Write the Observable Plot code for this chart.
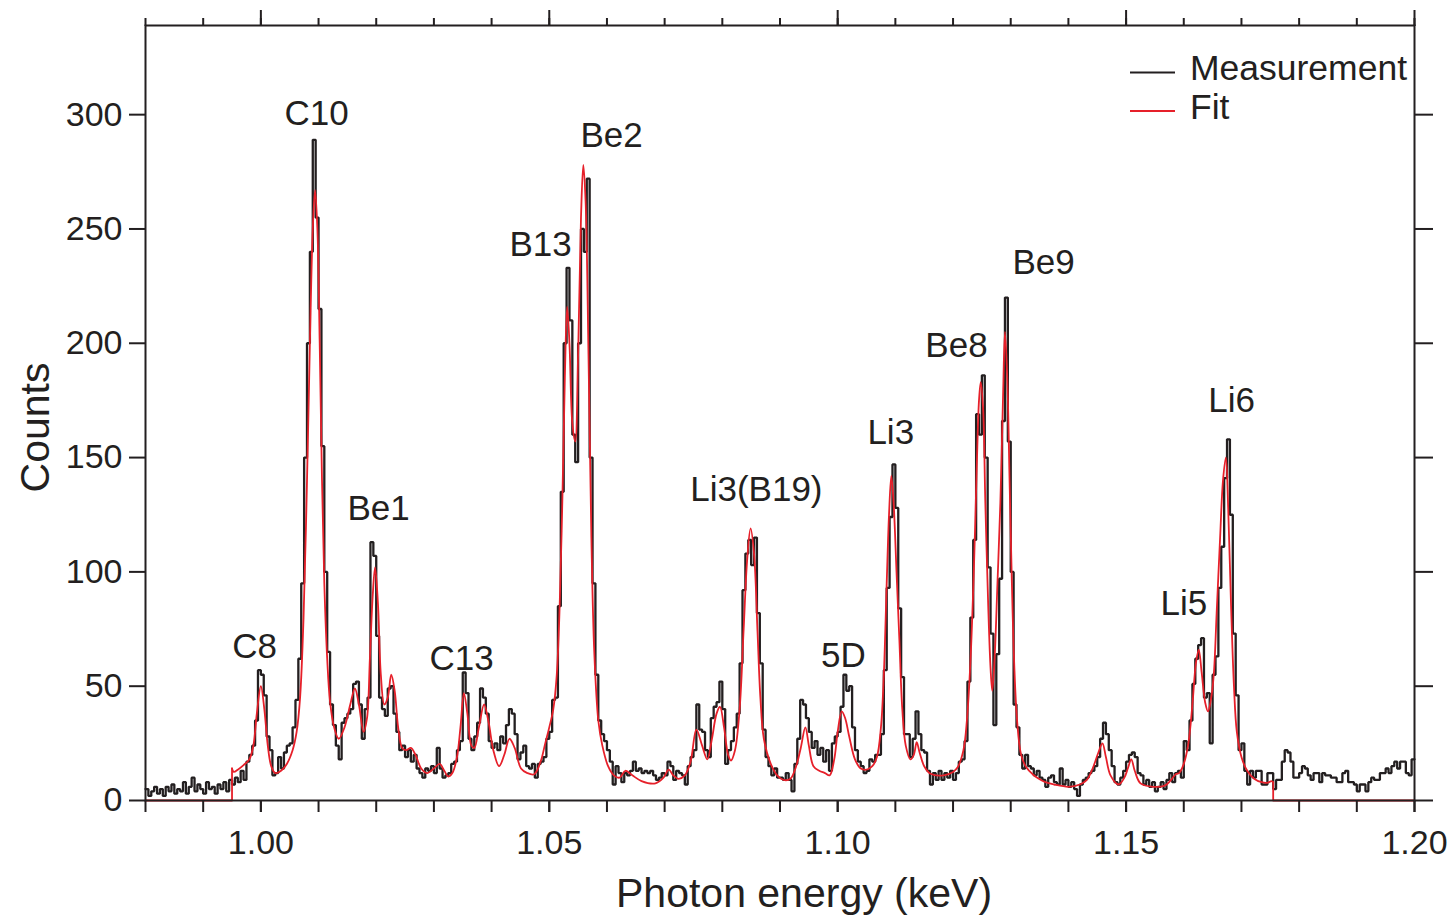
<!DOCTYPE html>
<html><head><meta charset="utf-8">
<script src="https://cdn.jsdelivr.net/npm/d3@7"></script>
<script src="https://cdn.jsdelivr.net/npm/@observablehq/plot@0.6"></script>
<style>
html,body{margin:0;padding:0;background:#fff;}
#chart{width:1449px;height:916px;}
</style></head><body><div id="chart"></div>
<script>
// Histogram bins (keV)
const binStart = 0.98;
const binWidth = 0.0005;
// Measured counts per bin
const measuredCounts = [
5,2,4,6,3,5,2,6,4,7, 3,5,4,8,3,6,10,4,7,5, 3,8,5,6,3,7,5,8,4,9,
7,10,8,13,9,17,20,24,35,57, 55,46,28,22,11,12,19,14,21,24,
25,32,44,62,95,150,200,240,289,255, 215,155,100,65,42,33,24,18,34,36,
38,40,51,52,42,27,40,45,113,107, 72,45,40,37,49,50,38,30,22,24,
19,22,17,20,14,12,10,14,13,15, 12,23,14,10,11,12,16,17,22,26,
56,47,27,22,28,34,49,45,38,26, 23,25,22,28,25,33,40,38,29,18,
21,24,15,14,16,10,16,17,19,27, 30,44,45,85,135,200,233,210,160,148,
200,250,240,272,150,95,55,35,29,26, 22,17,7,15,12,8,12,11,13,17,
13,14,12,13,12,13,11,9,10,12, 11,17,15,9,13,12,11,7,15,19,
22,42,31,30,22,19,36,41,43,52, 40,16,22,26,32,38,60,92,108,114,
103,115,82,60,31,19,15,11,14,10, 10,9,12,9,4,16,27,44,42,36,
30,23,26,20,23,17,22,13,25,28, 30,41,55,48,50,32,22,17,15,12,
13,18,17,20,20,29,57,93,124,147, 128,84,54,29,29,19,27,39,29,22,
21,13,7,12,9,13,9,12,10,13, 9,12,17,18,26,52,80,114,169,160,
186,150,102,73,33,64,97,166,220,157, 100,42,32,20,14,20,15,14,11,13,
10,9,6,10,11,8,7,14,7,9, 6,8,5,2,7,9,10,12,13,15,
19,27,34,29,22,15,8,7,10,13, 17,20,21,19,12,11,7,9,6,8,
4,6,8,5,9,12,8,12,13,10, 26,22,35,51,62,68,71,45,47,25,
55,63,93,111,141,158,125,73,46,22, 25,13,7,13,10,13,13,7,7,12,
12,5,9,9,17,22,21,17,10,10, 12,15,14,11,9,12,12,8,12,11,
11,10,10,8,8,12,13,8,8,7, 4,7,7,4,8,10,9,9,12,12,
14,12,15,17,14,17,17,12,11,18
];
// Fit curve (keV, counts)
const fitEnergy = [
0.98,0.995,0.995,0.9953,0.996,0.997,0.998,0.9987,0.9993,1.0,1.0006,1.0012,1.0018,1.0025,1.0035,1.0045,1.0055,1.0062,1.0068,1.0074,
1.008,1.0085,1.009,1.0094,1.0098,1.0102,1.0106,1.011,1.0115,1.012,1.0127,1.0135,1.0145,1.0155,1.0163,1.017,1.0178,1.0184,1.0189,1.0194,
1.0198,1.0203,1.0208,1.0214,1.022,1.0226,1.0232,1.0238,1.0245,1.0252,1.026,1.0268,1.0278,1.0288,1.03,1.031,1.0318,1.0325,1.0332,1.034,
1.0346,1.0352,1.0358,1.0365,1.037,1.0378,1.0387,1.0395,1.0403,1.0413,1.0422,1.0431,1.044,1.0451,1.0462,1.0474,1.0485,1.0493,1.05,1.0507,
1.0513,1.0518,1.0523,1.0527,1.0531,1.0535,1.054,1.0545,1.055,1.0555,1.0559,1.0563,1.0568,1.0573,1.0578,1.0585,1.0592,1.0602,1.0612,1.0622,
1.0632,1.0644,1.066,1.0684,1.0698,1.0707,1.0715,1.0724,1.0735,1.0745,1.0755,1.0765,1.0774,1.0782,1.079,1.0796,1.0803,1.081,1.0815,1.0822,
1.083,1.0837,1.0843,1.0849,1.0855,1.0861,1.0866,1.0872,1.0884,1.0895,1.0906,1.0918,1.0928,1.0936,1.0944,1.095,1.0958,1.0968,1.0978,1.0986,
1.0994,1.1,1.1007,1.1013,1.102,1.103,1.104,1.105,1.106,1.1068,1.1075,1.108,1.1085,1.1089,1.1093,1.1097,1.1102,1.1107,1.1112,1.1118,
1.1126,1.1132,1.1137,1.1142,1.115,1.1161,1.1184,1.12,1.1208,1.1218,1.1224,1.123,1.1236,1.1241,1.1245,1.1248,1.1252,1.1256,1.1261,1.1265,
1.1268,1.1272,1.1277,1.1282,1.1287,1.129,1.1294,1.1298,1.1302,1.1306,1.1311,1.1318,1.1327,1.1338,1.1348,1.136,1.1375,1.14,1.142,1.1432,
1.1442,1.1452,1.1459,1.1465,1.1473,1.1487,1.1497,1.1503,1.1509,1.1515,1.1525,1.1547,1.1567,1.1578,1.1586,1.1592,1.16,1.1608,1.1615,1.1621,
1.1626,1.1631,1.1637,1.1642,1.1647,1.1652,1.1657,1.1663,1.1668,1.1673,1.1677,1.1682,1.1687,1.1692,1.17,1.171,1.1722,1.1735,1.1746,1.1752,
1.1755,1.1755,1.2
];
const fitCounts = [
0,0,14,12.5,13.5,15.5,18,24,38,50,40,24,15,12,13,16,22,30,45,80,
140,200,250,267,250,200,140,95,62,43,32,27,32,42,49,42,30,36,62,90,
102,86,55,42,45,55,48,32,23,22,23,20,14,12,14,16,13,10.5,12,19,
32,47,38,24,23,32,42,34,22,15,20,27,23,14,12,11.5,17,25,32,40,
55,85,135,185,216,200,165,157,195,255,278,262,195,115,65,35,24,15,11,10,
13,11,8.5,7.5,10,13.5,11,9.5,11,17,31,24,18,27,38,41,32,20,17.5,22,
40,75,105,119,108,74,45,27,16,11,9,9.5,15,23,32,24,15,13,12,11,
18,30,39,36,28,18,14,13.5,15,19,32,55,95,125,142,130,100,70,40,24,
18,20,25.5,21,15,11.7,11,12.5,14.5,22,35,60,100,145,175,183,172,130,85,58,
48,62,95,130,180,205,185,140,95,60,35,20,14.5,11.5,9.6,8,7,6,7,9,
14,21,25,19,11,7,10,14,18,13,7.5,6,6.5,9,11.5,12,16,25,42,60,
66,56,43,39,44,55,82,115,140,150,128,85,50,30,19,13,9.5,8,7.8,8.5,
8,0,0
];
// Peak labels
const peakNames  = ["C8","C10","Be1","C13","B13","Be2","Li3(B19)","5D","Li3","Be8","Be9","Li5","Li6"];
const peakEnergy = [0.9989,1.00965,1.0204,1.0348,1.0485,1.0608,1.0859,1.1010,1.1092,1.1206,1.1357,1.1600,1.1683];
const peakCounts = [62.5,295.6,122.9,57.3,238.3,286,131,58.6,156.1,194.2,230.5,81.3,170.1];
// Ticks
const xMajorTicks = [1.00,1.05,1.10,1.15,1.20];
const xMinorTicks = [0.98,0.99,1.00,1.01,1.02,1.03,1.04,1.05,1.06,1.07,1.08,1.09,1.10,1.11,1.12,1.13,1.14,1.15,1.16,1.17,1.18,1.19,1.20];
const yTicks = [0,50,100,150,200,250,300];
// Legend
const legendNames = ["Measurement","Fit"];

const ink = "#231f20";
const red = "#e6202a";
const font = "'Liberation Sans', Arial, Helvetica, sans-serif";

const meas = measuredCounts.map((c, i) => ({x: binStart + i * binWidth, y: c}));
meas.push({x: binStart + measuredCounts.length * binWidth, y: measuredCounts[measuredCounts.length - 1]});
const fit = fitEnergy.map((x, i) => ({x, y: fitCounts[i]}));
const fitLeft = fit.slice(0, 3);
const fitMain = fit.slice(2, fit.length - 2);
const fitRight = fit.slice(fit.length - 3);
const peaks = peakNames.map((n, i) => ({name: n, x: peakEnergy[i], y: peakCounts[i]}));
const legendColors = [ink, red];

const chart = Plot.plot({
  width: 1449,
  height: 916,
  marginLeft: 145,
  marginRight: 35,
  marginTop: 25,
  marginBottom: 116,
  x: {domain: [0.98, 1.20]},
  y: {domain: [0, 339]},
  style: {fontFamily: font, fontSize: "34px", color: ink, background: "#fff"},
  marks: [
    Plot.line(meas, {x: "x", y: "y", curve: "step-after", stroke: ink, strokeWidth: 2.3, strokeLinejoin: "miter"}),
    Plot.line(fitLeft, {x: "x", y: "y", stroke: red, strokeWidth: 1.8}),
    Plot.line(fitMain, {x: "x", y: "y", curve: "catmull-rom", stroke: red, strokeWidth: 1.8}),
    Plot.line(fitRight, {x: "x", y: "y", stroke: red, strokeWidth: 1.8}),
    Plot.text(peaks, {x: "x", y: "y", text: "name", fontSize: 35, lineAnchor: "bottom", textAnchor: "middle", fill: ink}),
    Plot.frame({stroke: ink, strokeWidth: 2}),
    Plot.axisX(xMinorTicks, {anchor: "bottom", tickSize: 12, tickFormat: () => "", label: null, strokeWidth: 2, color: ink}),
    Plot.axisX(xMajorTicks, {anchor: "bottom", tickSize: 12, tickPadding: 17, tickFormat: d3.format(".2f"), label: null, strokeWidth: 2, fontSize: 34, color: ink}),
    Plot.axisX(xMinorTicks, {anchor: "top", tickSize: 8, tickFormat: () => "", label: null, strokeWidth: 2, color: ink}),
    Plot.axisX(xMajorTicks, {anchor: "top", tickSize: 16, tickFormat: () => "", label: null, strokeWidth: 2, color: ink}),
    Plot.axisY(yTicks, {anchor: "left", tickSize: 16, tickPadding: 7, label: null, strokeWidth: 2, fontSize: 34, color: ink}),
    Plot.axisY(yTicks, {anchor: "right", tickSize: 18, tickFormat: () => "", label: null, strokeWidth: 2, color: ink}),
    Plot.text(["Photon energy (keV)"], {frameAnchor: "bottom", text: d => d, dx: 24, dy: 106, lineAnchor: "bottom", textAnchor: "middle", fontSize: 41, fill: ink}),
    Plot.text(["Counts"], {frameAnchor: "left", text: d => d, rotate: -90, dx: -97, dy: 14.5, lineAnchor: "bottom", textAnchor: "middle", fontSize: 41, fill: ink})
  ]
});
document.getElementById("chart").appendChild(chart);

// Legend inside the frame, top right
const svg = d3.select(chart);
const lg = svg.append("g").attr("font-family", font).attr("font-size", 35.5).attr("fill", ink).attr("text-anchor", "start");
legendNames.forEach((name, i) => {
  const cy = 72.5 + i * 38.5;
  lg.append("line").attr("x1", 1130).attr("x2", 1175).attr("y1", cy).attr("y2", cy)
    .attr("stroke", legendColors[i]).attr("stroke-width", 1.8);
  lg.append("text").attr("x", 1190).attr("y", cy + 7.5).attr("text-anchor", "start").text(name);
});
</script>
</body></html>
